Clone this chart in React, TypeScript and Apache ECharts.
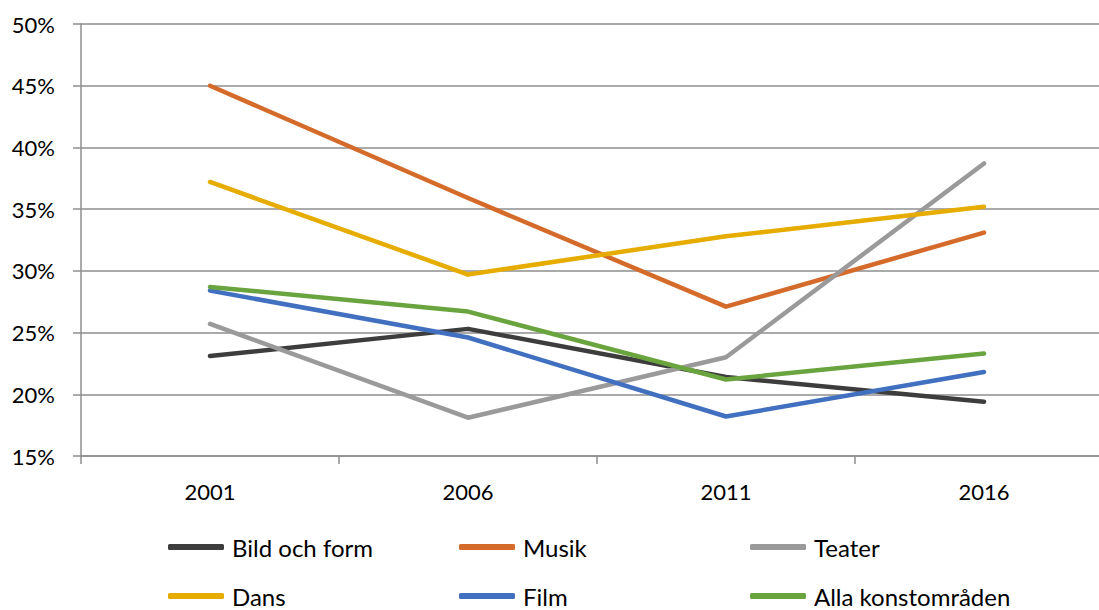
import React, { useEffect, useRef } from "react";
import * as echarts from "echarts";

const years = ["2001", "2006", "2011", "2016"];
const bildOchForm = [23.1, 25.3, 21.4, 19.4];
const musik = [45.0, 35.9, 27.1, 33.1];
const teater = [25.7, 18.1, 23.0, 38.7];
const dans = [37.2, 29.7, 32.8, 35.2];
const film = [28.4, 24.6, 18.2, 21.8];
const alla = [28.7, 26.7, 21.2, 23.3];

const FONT = "Lato";

const seriesDefs = [
  { name: "Bild och form", data: bildOchForm, color: "#3d3d3d" },
  { name: "Musik", data: musik, color: "#d56b2b" },
  { name: "Teater", data: teater, color: "#9a9a9a" },
  { name: "Dans", data: dans, color: "#e6ac00" },
  { name: "Film", data: film, color: "#4270c0" },
  { name: "Alla konstområden", data: alla, color: "#6aa43f" },
];

// legend grid placement: column index, row index
const legendSlots = [
  [0, 0],
  [1, 0],
  [2, 0],
  [0, 1],
  [1, 1],
  [2, 1],
];
const legendCols = [168, 459, 750];
const legendRows = [535, 584];

export default function App() {
  const ref = useRef<HTMLDivElement>(null);
  useEffect(() => {
    if (!ref.current) return;
    const chart = echarts.init(ref.current, undefined, { renderer: "svg" });
    chart.setOption({
      animation: false,
      grid: { left: 81, right: 17, top: 24, bottom: 154, containLabel: false },
      xAxis: {
        type: "category",
        data: years,
        boundaryGap: true,
        axisLine: { show: true, lineStyle: { color: "#8e8e8e", width: 1.5 } },
        axisTick: { show: true, length: 8, lineStyle: { color: "#8e8e8e", width: 1.5 } },
        axisLabel: { fontFamily: FONT, fontSize: 22, color: "#000", margin: 24 },
        splitLine: { show: false },
      },
      yAxis: {
        type: "value",
        min: 15,
        max: 50,
        interval: 5,
        axisLine: { show: true, lineStyle: { color: "#8e8e8e", width: 1.5 } },
        axisTick: { show: true, inside: false, length: 8, lineStyle: { color: "#8e8e8e", width: 1.5 } },
        axisLabel: { fontFamily: FONT, fontSize: 22, color: "#000", margin: 26, formatter: "{value}%" },
        splitLine: { show: true, lineStyle: { color: "#8e8e8e", width: 1.5 } },
      },
      legend: seriesDefs.map((s, i) => ({
        left: legendCols[legendSlots[i][0]],
        top: legendRows[legendSlots[i][1]],
        padding: 0,
        itemWidth: 56,
        itemHeight: 6,
        icon: "roundRect",
        data: [s.name],
        textStyle: { fontFamily: FONT, fontSize: 24, color: "#000", padding: [0, 0, 0, 3] },
      })),
      series: seriesDefs.map((s) => ({
        name: s.name,
        type: "line",
        data: s.data,
        color: s.color,
        showSymbol: false,
        symbol: "none",
        lineStyle: { width: 4.5, color: s.color, cap: "round", join: "round" },
        itemStyle: { color: s.color },
      })),
    });
    return () => chart.dispose();
  }, []);
  return (
    <div style={{ position: "fixed", left: 0, top: 0, width: 1099, height: 610, overflow: "hidden", background: "#fff" }}>
      <div ref={ref} style={{ width: 1130, height: 610 }} />
    </div>
  );
}
